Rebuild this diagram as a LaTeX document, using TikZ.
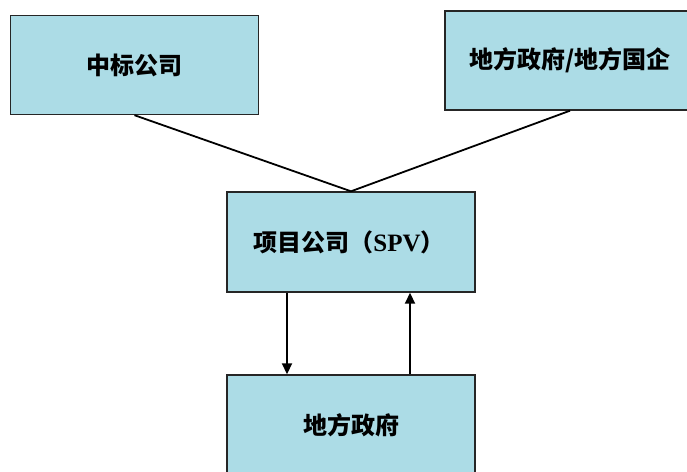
\documentclass[tikz,border=0pt]{standalone}
\usepackage{fontspec}
\newfontfamily\cjk{Noto Sans CJK SC}
\newfontfamily\latinserif{Liberation Serif}
\usetikzlibrary{arrows.meta}
\definecolor{boxblue}{RGB}{172,220,230}
\tikzset{
  boxnode/.style={draw=black!85, line width=1.4pt, fill=boxblue, minimum width=248pt, minimum height=99pt, inner sep=0pt, font=\cjk\bfseries\fontsize{24}{28}\selectfont},
  link/.style={line width=1.8pt},
  flow/.style={line width=1.8pt, -{Triangle[length=11pt,width=10pt]}}
}
\begin{document}
\begin{tikzpicture}[x=1pt,y=-1pt]
\useasboundingbox (0,0) rectangle (687,471);
\clip (0,0) rectangle (687,471);
\fill[white] (0,0) rectangle (687,471);
\node[boxnode] (b1) at (134.5,65) {中标公司};
\node[boxnode, minimum width=250pt] (b2) at (570,60.5) {地方政府/地方国企};
\node[boxnode, minimum height=100pt] (b3) at (351,242) {\hspace*{-4pt}项目公司（{\latinserif\bfseries\fontsize{25}{28}\selectfont SPV}）};
\node[boxnode, minimum height=100pt] (b4) at (351,425) {地方政府};
\draw[link] (b1.south) -- (b3.north);
\draw[link] (b2.south) -- (b3.north);
\draw[flow] ([xshift=-64pt]b3.south) -- ([xshift=-64pt]b4.north);
\draw[flow] ([xshift=59pt]b4.north) -- ([xshift=59pt]b3.south);
\end{tikzpicture}
\end{document}
